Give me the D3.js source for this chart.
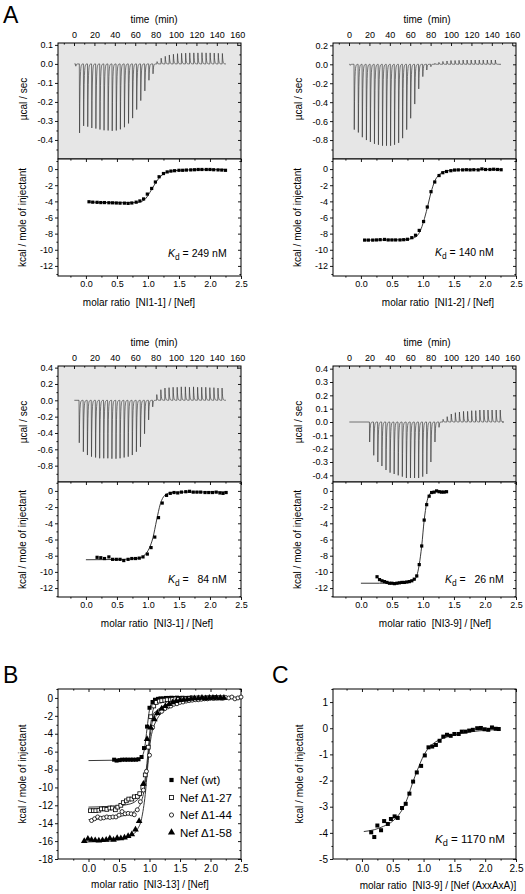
<!DOCTYPE html>
<html><head><meta charset="utf-8">
<script src="https://cdn.jsdelivr.net/npm/d3@7/dist/d3.min.js"></script>
<style>body{margin:0;background:#fff}svg{display:block}</style>
</head><body><svg id="c" width="525" height="894"></svg>
<script>
// ---------------- DATA ----------------
const timeTicks = [0,20,40,60,80,100,120,140,160];
const timeMinor = [-10,10,30,50,70,90,110,130,150];
const ratioTicks = [0,0.5,1,1.5,2,2.5];
const ratioMinor = [-0.25,0.25,0.75,1.25,1.75,2.25];
const isoTicks = [0,-2,-4,-6,-8,-10,-12];
const isoMinor = [1,-1,-3,-5,-7,-9,-11,-13];

// A top-left  NI1-1
const tlTicks = [0.1,0,-0.1,-0.2,-0.3,-0.4];
const tlMinor = [0.05,-0.05,-0.15,-0.25,-0.35,-0.45];
const tlTimes = [1.5,5.2,9.2,13.2,17.2,21.2,25.2,29.2,33.2,37.2,41.2,45.2,49.2,53.2,57.2,61.2,65.2,69.2,73.2,77.2,81.2,85.2,89.2,93.2,97.2,101.2,105.2,109.2,113.2,117.2,121.2,125.2,129.2,133.2,137.2,141.2,145.2];
const tlPeaks = [-0.012,-0.363,-0.326,-0.330,-0.337,-0.340,-0.345,-0.349,-0.350,-0.352,-0.350,-0.344,-0.333,-0.313,-0.285,-0.240,-0.193,-0.142,-0.086,-0.052,0.012,0.030,0.040,0.047,0.051,0.054,0.056,0.057,0.058,0.058,0.058,0.059,0.058,0.058,0.057,0.056,0.055];
const tlRatio = [0.05,0.11,0.18,0.24,0.30,0.37,0.43,0.49,0.55,0.62,0.68,0.74,0.81,0.87,0.93,0.99,1.06,1.12,1.18,1.25,1.31,1.37,1.43,1.50,1.56,1.62,1.69,1.75,1.81,1.87,1.94,2.00,2.06,2.13,2.19,2.25];
const tlHeat = [-4.05,-4.10,-4.12,-4.15,-4.15,-4.17,-4.18,-4.20,-4.22,-4.22,-4.25,-4.20,-4.10,-3.95,-3.70,-3.10,-2.40,-1.60,-0.95,-0.55,-0.35,-0.25,-0.20,-0.15,-0.15,-0.12,-0.10,-0.08,-0.05,-0.05,-0.05,-0.05,-0.08,-0.10,-0.12,-0.15];
const tlFitX = [0.05,0.5,0.8,0.9,0.97,1.03,1.1,1.17,1.25,1.35,1.5,1.8,2.25];
const tlFitY = [-4.08,-4.17,-4.15,-4.0,-3.6,-2.9,-2.0,-1.2,-0.6,-0.3,-0.15,-0.08,-0.06];

// A top-right NI1-2
const trTicks = [0.2,0,-0.2,-0.4,-0.6,-0.8];
const trMinor = [0.1,-0.1,-0.3,-0.5,-0.7,-0.9];
const trTimes = [1.0,4.9,8.9,12.8,16.8,20.7,24.7,28.6,32.6,36.5,40.5,44.4,48.4,52.3,56.3,60.2,64.2,68.1,72.1,76.0,80.0,83.9,87.9,91.8,95.8,99.7,103.7,107.6,111.6,115.5,119.5,123.4,127.4,131.3,135.3,139.2,143.2];
const trPeaks = [-0.01,-0.69,-0.72,-0.77,-0.80,-0.82,-0.84,-0.85,-0.86,-0.86,-0.86,-0.85,-0.83,-0.78,-0.69,-0.57,-0.42,-0.26,-0.13,-0.06,-0.025,0.01,0.02,0.03,0.035,0.04,0.04,0.042,0.045,0.045,0.045,0.045,0.045,0.045,0.045,0.045,0.045];
const trRatio = [0.06,0.12,0.19,0.25,0.31,0.38,0.44,0.50,0.56,0.63,0.69,0.75,0.82,0.88,0.94,1.01,1.07,1.13,1.19,1.26,1.32,1.38,1.45,1.51,1.57,1.64,1.70,1.76,1.82,1.89,1.95,2.01,2.08,2.14,2.20,2.26];
const trHeat = [-8.80,-8.80,-8.80,-8.78,-8.75,-8.72,-8.78,-8.78,-8.78,-8.78,-8.75,-8.70,-8.50,-8.20,-7.60,-6.50,-4.70,-2.80,-1.60,-0.80,-0.45,-0.30,-0.20,-0.12,-0.10,-0.10,-0.08,-0.10,-0.08,-0.10,0.02,-0.05,-0.05,-0.02,-0.05,-0.08];
const trFitX = [0.06,0.7,0.82,0.9,0.96,1.01,1.07,1.13,1.19,1.26,1.35,1.5,1.8,2.26];
const trFitY = [-8.8,-8.76,-8.6,-8.3,-7.6,-6.5,-4.8,-2.9,-1.5,-0.7,-0.3,-0.12,-0.06,-0.04];

// A bottom-left NI3-1
const blTicks = [0.4,0.2,0,-0.2,-0.4,-0.6,-0.8];
const blMinor = [0.3,0.1,-0.1,-0.3,-0.5,-0.7,-0.9];
const blTimes = [4.9,8.9,12.9,16.9,20.9,24.9,28.9,32.9,36.9,40.9,44.9,48.9,52.9,56.9,60.9,64.9,68.9,72.9,76.9,80.9,84.9,88.9,92.9,96.9,100.9,104.9,108.9,112.9,116.9,120.9,124.9,128.9,132.9,136.9,140.9,144.9];
const blPeaks = [-0.52,-0.63,-0.67,-0.69,-0.70,-0.71,-0.71,-0.71,-0.715,-0.715,-0.71,-0.70,-0.69,-0.67,-0.63,-0.57,-0.41,-0.24,-0.08,0.07,0.13,0.15,0.155,0.16,0.16,0.165,0.165,0.16,0.165,0.16,0.16,0.16,0.155,0.155,0.15,0.15];
const blRatio = [0.18,0.24,0.30,0.37,0.43,0.49,0.55,0.61,0.68,0.74,0.80,0.86,0.92,0.99,1.05,1.11,1.17,1.23,1.30,1.36,1.42,1.48,1.54,1.61,1.67,1.73,1.79,1.85,1.92,1.98,2.04,2.10,2.16,2.21,2.26];
const blHeat = [-8.2,-8.25,-8.35,-8.15,-8.45,-8.45,-8.45,-8.6,-8.45,-8.35,-8.35,-8.3,-8.15,-7.8,-7.0,-5.7,-3.3,-1.5,-0.55,-0.3,-0.2,-0.25,-0.15,-0.1,-0.05,-0.15,-0.15,-0.15,-0.2,-0.2,-0.2,-0.15,-0.25,-0.3,-0.2];
const blFitX = [0,0.6,0.85,0.95,1.02,1.08,1.14,1.2,1.27,1.35,1.5,2.26];
const blFitY = [-8.5,-8.45,-8.3,-7.9,-7.1,-5.8,-3.6,-1.6,-0.55,-0.25,-0.15,-0.12];

// A bottom-right NI3-9
const brTicks = [0.4,0.3,0.2,0.1,0,-0.1,-0.2,-0.3,-0.4];
const brMinor = [];
const brTimes = [20,24,28,32,36,40,44,48,52,56,60,64,68,72,76,80,84,88,92,96,100,104,108,112,116,120,124,128,132,136,140,144,148];
const brPeaks = [-0.15,-0.25,-0.30,-0.33,-0.36,-0.38,-0.39,-0.40,-0.41,-0.42,-0.42,-0.42,-0.42,-0.41,-0.39,-0.30,-0.15,-0.04,0.02,0.04,0.06,0.07,0.075,0.08,0.08,0.085,0.085,0.09,0.09,0.09,0.09,0.09,0.09];
const brRatio = [0.26,0.30,0.34,0.38,0.42,0.46,0.50,0.54,0.58,0.62,0.66,0.70,0.74,0.78,0.82,0.86,0.90,0.94,0.98,1.02,1.06,1.10,1.14,1.18,1.22,1.26,1.30,1.34,1.38];
const brHeat = [-10.6,-10.95,-11.1,-11.2,-11.3,-11.4,-11.4,-11.45,-11.4,-11.35,-11.3,-11.3,-11.25,-11.2,-11.1,-10.9,-10.5,-9.1,-6.8,-3.6,-1.7,-0.65,-0.2,-0.15,0.0,-0.1,-0.15,-0.15,-0.1];
const brFitX = [0.0,0.3,0.6,0.8,0.86,0.9,0.94,0.98,1.02,1.06,1.1,1.15,1.25,1.38];
const brFitY = [-11.4,-11.4,-11.35,-11.2,-11.0,-10.5,-9.1,-6.8,-3.6,-1.5,-0.5,-0.15,-0.05,-0.05];

// B
const bTicks = [0,-2,-4,-6,-8,-10,-12,-14,-16,-18];
const bMinor = [1,-1,-3,-5,-7,-9,-11,-13,-15,-17];
const legendLabels = ["Nef (wt)","Nef \u03941-27","Nef \u03941-44","Nef \u03941-58"];
const wtRatio = [0.42,0.46,0.51,0.55,0.60,0.64,0.69,0.73,0.78,0.82,0.87,0.91,0.96,1.00,1.05,1.09,1.14,1.18,1.23,1.27,1.32,1.36,1.40,1.45,1.49,1.54,1.58,1.62,1.67,1.71,1.76,1.80,1.84,1.89,1.93,1.98,2.02,2.06,2.11,2.15,2.20];
const wtHeat = [-6.9,-7.0,-6.95,-6.9,-6.9,-6.9,-6.9,-6.9,-6.9,-6.85,-6.6,-5.6,-3.2,-1.1,-0.45,-0.2,-0.1,-0.05,-0.05,0.0,0.0,0.02,0.0,0.03,0.0,0.02,0.0,0.0,0.02,0.0,-0.02,0.0,0.0,0.0,0.02,0.0,0.0,-0.02,0.0,0.0,-0.02];
const d27Ratio = [0.03,0.08,0.12,0.17,0.21,0.26,0.30,0.35,0.39,0.44,0.48,0.53,0.57,0.62,0.66,0.71,0.75,0.80,0.84,0.89,0.93,0.98,1.02,1.07,1.11,1.16,1.20,1.25,1.29,1.34,1.38,1.43,1.47,1.52,1.56,1.61,1.65,1.70,1.74,1.79,1.83,1.88,1.92,1.97,2.01,2.06,2.10,2.15,2.19];
const d27Heat = [-12.6,-12.6,-12.6,-12.55,-12.4,-12.4,-12.45,-12.3,-12.3,-12.5,-12.2,-12.0,-11.7,-11.5,-11.3,-11.3,-11.05,-11.0,-10.7,-10.0,-8.6,-5.5,-2.1,-0.9,-0.5,-0.35,-0.3,-0.25,-0.2,-0.2,-0.15,-0.1,-0.15,-0.1,-0.05,-0.1,-0.05,0.0,-0.05,0.0,0.0,-0.05,0.0,0.0,0.0,0.05,0.0,0.0,0.0];
const d44Ratio = [0.05,0.10,0.15,0.20,0.25,0.30,0.35,0.40,0.45,0.50,0.55,0.60,0.65,0.70,0.75,0.80,0.85,0.90,0.95,1.00,1.05,1.10,1.15,1.20,1.25,1.30,1.35,1.40,1.45,1.50,1.55,1.60,1.65,1.70,1.75,1.80,1.85,1.90,1.95,2.00,2.05,2.10,2.15,2.20,2.25,2.30,2.35,2.40,2.45,2.50];
const d44Heat = [-13.7,-13.5,-13.3,-13.45,-13.4,-13.3,-13.35,-13.3,-13.3,-13.1,-12.7,-12.95,-12.9,-12.95,-13.05,-12.5,-11.6,-10.3,-8.2,-6.4,-3.3,-1.8,-1.6,-1.5,-1.2,-1.0,-0.9,-0.7,-0.65,-0.5,-0.45,-0.35,-0.3,-0.25,-0.2,-0.2,-0.15,-0.1,-0.1,0.0,-0.05,0.0,0.05,0.0,0.05,0.0,0.1,-0.1,0.0,0.1];
const d58Ratio = [-0.07,-0.01,0.05,0.11,0.17,0.23,0.29,0.35,0.41,0.47,0.53,0.59,0.65,0.71,0.77,0.83,0.90,0.96,1.02,1.08,1.13,1.20,1.26,1.32,1.38,1.44,1.50,1.56,1.62,1.68,1.74,1.80,1.86,1.92,1.98,2.04,2.10,2.16,2.22];
const d58Heat = [-16.0,-15.75,-15.85,-15.9,-15.95,-15.9,-15.85,-15.7,-15.85,-15.65,-15.7,-15.6,-15.45,-15.25,-14.7,-13.75,-9.6,-4.6,-3.3,-2.4,-1.7,-1.2,-0.9,-0.7,-0.5,-0.35,-0.25,-0.2,-0.15,-0.1,-0.05,-0.05,0.0,-0.05,0.0,0.0,0.0,0.0,0.0];
const wtFitX = [0,0.5,0.8,0.87,0.92,0.96,1.0,1.04,1.08,1.15,1.3,2.25];
const wtFitY = [-7.0,-6.95,-6.9,-6.6,-5.6,-3.4,-1.3,-0.5,-0.2,-0.08,-0.03,0];
const d27FitX = [0,0.4,0.65,0.78,0.86,0.92,0.97,1.01,1.05,1.1,1.18,1.3,1.6,2.25];
const d27FitY = [-12.2,-12.1,-11.9,-11.5,-10.8,-9.4,-6.5,-3.5,-1.6,-0.75,-0.35,-0.2,-0.07,-0.02];
const d44FitX = [0,0.4,0.65,0.78,0.86,0.92,0.97,1.01,1.05,1.1,1.18,1.3,1.5,1.8,2.5];
const d44FitY = [-13.6,-13.35,-13.0,-12.5,-11.7,-10.0,-7.2,-4.3,-2.5,-1.6,-1.1,-0.7,-0.35,-0.12,0.02];
const d58FitX = [-0.05,0.3,0.55,0.7,0.8,0.87,0.93,0.98,1.02,1.07,1.13,1.2,1.3,1.45,1.7,2.2];
const d58FitY = [-16.1,-16.0,-15.8,-15.4,-14.7,-13.5,-10.8,-7.0,-4.6,-3.2,-2.3,-1.6,-0.95,-0.45,-0.15,-0.03];

// C
const cTicks = [1,0,-1,-2,-3,-4,-5];
const cMinor = [1.5,0.5,-0.5,-1.5,-2.5,-3.5,-4.5];
const cRatio = [0.15,0.20,0.25,0.31,0.36,0.42,0.47,0.53,0.58,0.65,0.71,0.77,0.83,0.89,0.96,1.02,1.08,1.14,1.20,1.26,1.32,1.38,1.44,1.50,1.57,1.62,1.68,1.74,1.80,1.87,1.93,1.99,2.05,2.11,2.17,2.22];
const cHeat = [-3.98,-4.16,-3.72,-3.9,-3.55,-3.66,-3.47,-3.37,-3.43,-3.05,-2.89,-2.5,-2.04,-1.69,-1.44,-1.04,-0.73,-0.7,-0.64,-0.48,-0.32,-0.25,-0.29,-0.22,-0.22,-0.13,-0.13,-0.09,-0.06,0.0,0.01,-0.04,-0.06,0.03,-0.02,-0.03];
const cFitX = [0.03,0.2,0.35,0.5,0.6,0.68,0.75,0.82,0.9,0.98,1.06,1.15,1.25,1.4,1.6,1.9,2.22];
const cFitY = [-3.95,-3.88,-3.75,-3.55,-3.3,-3.0,-2.6,-2.1,-1.6,-1.15,-0.82,-0.6,-0.45,-0.32,-0.2,-0.1,-0.05];

// ---------------- DRAWING ----------------
const F = 'Arial, "Liberation Sans", Helvetica, sans-serif';
const GRAY = "#e6e6e6";
const svg = d3.select("#c");
const zip = (a,b) => a.map((v,i)=>[v,b[i]]);

function st(sel, fs){
  sel.select(".domain").remove();
  sel.selectAll("line").attr("stroke","#000").attr("stroke-width",0.9);
  sel.selectAll("text").attr("font-size",fs).attr("font-family",F).attr("fill","#000");
}
function txt(x,y,s,fs,anchor,rot){
  const t = svg.append("text").attr("font-family",F).attr("font-size",fs).attr("text-anchor",anchor||"start").style("white-space","pre");
  if(rot){ t.attr("transform",`translate(${x},${y}) rotate(-90)`); } else { t.attr("x",x).attr("y",y); }
  t.text(s); return t;
}
function frame(L,T,R,B){
  svg.append("rect").attr("x",L).attr("y",T).attr("width",R-L).attr("height",B-T).attr("fill","none").attr("stroke","#000").attr("stroke-width",1);
}
function yAxes(y,L,R,ticks,minor,fmt,fs){
  svg.append("g").attr("transform",`translate(${L},0)`).call(d3.axisLeft(y).tickValues(ticks).tickSize(3).tickPadding(2).tickFormat(fmt)).call(st,fs);
  svg.append("g").attr("transform",`translate(${L},0)`).call(d3.axisLeft(y).tickValues(minor).tickSize(1.6).tickFormat("")).call(st,fs);
  svg.append("g").attr("transform",`translate(${R},0)`).call(d3.axisLeft(y).tickValues(ticks).tickSize(3).tickFormat("")).call(st,fs);
  svg.append("g").attr("transform",`translate(${R},0)`).call(d3.axisLeft(y).tickValues(minor).tickSize(1.6).tickFormat("")).call(st,fs);
}
function xAxes(x,T,B,ticks,minor,fmt,fs,pad){
  svg.append("g").attr("transform",`translate(0,${B})`).call(d3.axisBottom(x).tickValues(ticks).tickSize(3).tickPadding(pad).tickFormat(fmt)).call(st,fs);
  svg.append("g").attr("transform",`translate(0,${B})`).call(d3.axisBottom(x).tickValues(minor).tickSize(1.6).tickFormat("")).call(st,fs);
  svg.append("g").attr("transform",`translate(0,${T})`).call(d3.axisBottom(x).tickValues(ticks).tickSize(3).tickFormat("")).call(st,fs);
  svg.append("g").attr("transform",`translate(0,${T})`).call(d3.axisBottom(x).tickValues(minor).tickSize(1.6).tickFormat("")).call(st,fs);
}

function thermo(o){
  const x = d3.scaleLinear().domain([-15.7,163.7]).range([o.L,o.R]);
  const y = d3.scaleLinear().domain(o.yDom).range([o.B,o.T]);
  svg.append("rect").attr("x",o.L).attr("y",o.T).attr("width",o.R-o.L).attr("height",o.B-o.T).attr("fill",GRAY);
  const pts = [[o.t0,0]];
  o.times.forEach((t,i)=>{
    const h = o.peaks[i];
    pts.push([t,0],[t+0.25,h]);
    for(let k=1;k<=14;k++){ const dt=k*0.25; pts.push([t+0.25+dt, h*Math.exp(-dt/0.45)]); }
  });
  pts.push([o.t1,0]);
  svg.append("path").datum(pts).attr("d",d3.line().x(d=>x(d[0])).y(d=>y(d[1])))
    .attr("fill","none").attr("stroke","#333").attr("stroke-width",0.65);
  yAxes(y,o.L,o.R,o.yTicks,o.yMinor,d=>d.toFixed(1),9);
  svg.append("g").attr("transform",`translate(0,${o.T})`).call(d3.axisTop(x).tickValues(timeTicks).tickSize(0).tickPadding(5.5).tickFormat(d=>String(d))).call(st,9);
  svg.append("g").attr("transform",`translate(0,${o.T})`).call(d3.axisBottom(x).tickValues(timeTicks).tickSize(3).tickFormat("")).call(st,9);
  svg.append("g").attr("transform",`translate(0,${o.T})`).call(d3.axisBottom(x).tickValues(timeMinor).tickSize(1.6).tickFormat("")).call(st,9);
  frame(o.L,o.T,o.R,o.B);
  txt(o.timeX,o.T-20,"time  (min)",10,"middle");
  txt(o.L-31,(o.T+o.B)/2-2,"\u00b5cal / sec",10,"middle",true);
}

function marks(x,y,rx,hy,shape,size){
  const g = svg.append("g");
  const d = zip(rx,hy);
  if(shape==="sq"||shape==="osq"){
    g.selectAll("rect").data(d).join("rect")
      .attr("x",p=>x(p[0])-size/2).attr("y",p=>y(p[1])-size/2).attr("width",size).attr("height",size)
      .attr("fill",shape==="sq"?"#000":"#fff").attr("stroke","#000").attr("stroke-width",shape==="sq"?0:0.8);
  } else if(shape==="oc"){
    g.selectAll("circle").data(d).join("circle").attr("cx",p=>x(p[0])).attr("cy",p=>y(p[1])).attr("r",size/2)
      .attr("fill","#fff").attr("stroke","#000").attr("stroke-width",0.8);
  } else if(shape==="tri"){
    const sym = d3.symbol().type(d3.symbolTriangle).size(size*size*0.9);
    g.selectAll("path").data(d).join("path").attr("transform",p=>`translate(${x(p[0])},${y(p[1])})`).attr("d",sym).attr("fill","#000");
  }
}
function fit(x,y,fx,fy,w){
  svg.append("path").datum(zip(fx,fy)).attr("d",d3.line().curve(d3.curveMonotoneX).x(d=>x(d[0])).y(d=>y(d[1])))
    .attr("fill","none").attr("stroke","#222").attr("stroke-width",w||0.9);
}
function kd(xk,yb,val,fs){
  const t = svg.append("text").attr("x",xk).attr("y",yb).attr("font-family",F).attr("font-size",fs).style("white-space","pre");
  t.append("tspan").attr("font-style","italic").text("K");
  t.append("tspan").attr("dy",3).attr("font-size",fs*0.8).text("d");
  t.append("tspan").attr("dy",-3).text(" = " + val);
}

function iso(o){
  const x = d3.scaleLinear().domain(o.xDom).range([o.L,o.R]);
  const y = d3.scaleLinear().domain(o.yDom).range([o.B,o.T]);
  svg.append("rect").attr("x",o.L).attr("y",o.T).attr("width",o.R-o.L).attr("height",o.B-o.T).attr("fill","#fff");
  yAxes(y,o.L,o.R,o.yTicks,o.yMinor,d=>String(d),o.fs);
  xAxes(x,o.T,o.B,ratioTicks,ratioMinor,d=>d.toFixed(1),o.fs,o.pad);
  frame(o.L,o.T,o.R,o.B);
  txt(o.titleX,o.titleY,o.title,10,o.titleAnchor||"middle");
  txt(o.ylabX,(o.T+o.B)/2,"kcal / mole of injectant",10,"middle",true);
  return {x,y};
}

// ---- Panel A ----
const xA = [-0.45,2.5], yIso = [-13.25,1.25];
thermo({L:58,R:241,T:43,B:159,yDom:[-0.5,0.11],yTicks:tlTicks,yMinor:tlMinor,times:tlTimes,peaks:tlPeaks,t0:0.3,t1:149,timeX:154});
let s = iso({L:58,R:241,T:159,B:276,xDom:xA,yDom:yIso,yTicks:isoTicks,yMinor:isoMinor,fs:9,pad:2,title:"molar ratio  [NI1-1] / [Nef]",titleX:139,titleY:306,ylabX:26});
fit(s.x,s.y,tlFitX,tlFitY); marks(s.x,s.y,tlRatio,tlHeat,"sq",3.2); kd(168,256.5,"249 nM",10.5);

thermo({L:333,R:516,T:43,B:159,yDom:[-1.0,0.225],yTicks:trTicks,yMinor:trMinor,times:trTimes,peaks:trPeaks,t0:0.3,t1:149,timeX:427});
s = iso({L:333,R:516,T:159,B:276,xDom:xA,yDom:yIso,yTicks:isoTicks,yMinor:isoMinor,fs:9,pad:2,title:"molar ratio  [NI1-2] / [Nef]",titleX:438,titleY:306,ylabX:301});
fit(s.x,s.y,trFitX,trFitY); marks(s.x,s.y,trRatio,trHeat,"sq",3.2); kd(435,256,"140 nM",10.5);

const yIso2 = [-13.1,1.1];
thermo({L:58,R:241,T:366,B:482,yDom:[-1.0,0.42],yTicks:blTicks,yMinor:blMinor,times:blTimes,peaks:blPeaks,t0:0.3,t1:149,timeX:154});
s = iso({L:58,R:241,T:482,B:597,xDom:xA,yDom:yIso2,yTicks:isoTicks,yMinor:isoMinor,fs:9,pad:2,title:"molar ratio  [NI3-1] / [Nef]",titleX:157,titleY:627,ylabX:26});
fit(s.x,s.y,blFitX,blFitY); marks(s.x,s.y,blRatio,blHeat,"sq",3.2); kd(168,583,"  84 nM",10.5);

thermo({L:333,R:516,T:366,B:482,yDom:[-0.45,0.42],yTicks:brTicks,yMinor:brMinor,times:brTimes,peaks:brPeaks,t0:0.3,t1:150,timeX:427});
s = iso({L:333,R:516,T:482,B:597,xDom:xA,yDom:yIso2,yTicks:isoTicks,yMinor:isoMinor,fs:9,pad:2,title:"molar ratio  [NI3-9] / [Nef]",titleX:435,titleY:627,ylabX:301});
fit(s.x,s.y,brFitX,brFitY); marks(s.x,s.y,brRatio,brHeat,"sq",3.2); kd(445,583,"  26 nM",10.5);

// ---- Panel B ----
s = iso({L:58,R:241,T:689,B:859,xDom:[-0.5,2.5],yDom:[-18,1],yTicks:bTicks,yMinor:bMinor,fs:10,pad:3,title:"molar ratio  [NI3-13] / [Nef]",titleX:150,titleY:888,ylabX:26});
fit(s.x,s.y,wtFitX,wtFitY); fit(s.x,s.y,d27FitX,d27FitY); fit(s.x,s.y,d44FitX,d44FitY); fit(s.x,s.y,d58FitX,d58FitY);
marks(s.x,s.y,wtRatio,wtHeat,"sq",4);
marks(s.x,s.y,d27Ratio,d27Heat,"osq",3.8);
marks(s.x,s.y,d44Ratio,d44Heat,"oc",4);
marks(s.x,s.y,d58Ratio,d58Heat,"tri",4.6);
// legend
const legY = [780,797.5,815,832.5];
const legShape = ["sq","osq","oc","tri"];
legShape.forEach((sh,i)=>{
  const lx = d3.scaleLinear().domain([0,1]).range([171.5,172.5]);
  const ly = d3.scaleLinear().domain([0,1]).range([legY[i],legY[i]+1]);
  marks(lx,ly,[0],[0],sh,sh==="tri"?5:4.2);
  txt(180,legY[i]+4,legendLabels[i],11.5,"start");
});

// ---- Panel C ----
s = iso({L:333,R:516,T:689,B:859,xDom:[-0.47,2.5],yDom:[-5,1.5],yTicks:cTicks,yMinor:cMinor,fs:10,pad:3,title:"molar ratio  [NI3-9] / [Nef (AxxAxA)]",titleX:438,titleY:889,ylabX:303});
fit(s.x,s.y,cFitX,cFitY); marks(s.x,s.y,cRatio,cHeat,"sq",4); kd(435,843,"1170 nM",11.5);

// panel letters
txt(3,23,"A",23,"start");
txt(3,683,"B",23,"start");
txt(272,683,"C",23,"start");
</script></body></html>
